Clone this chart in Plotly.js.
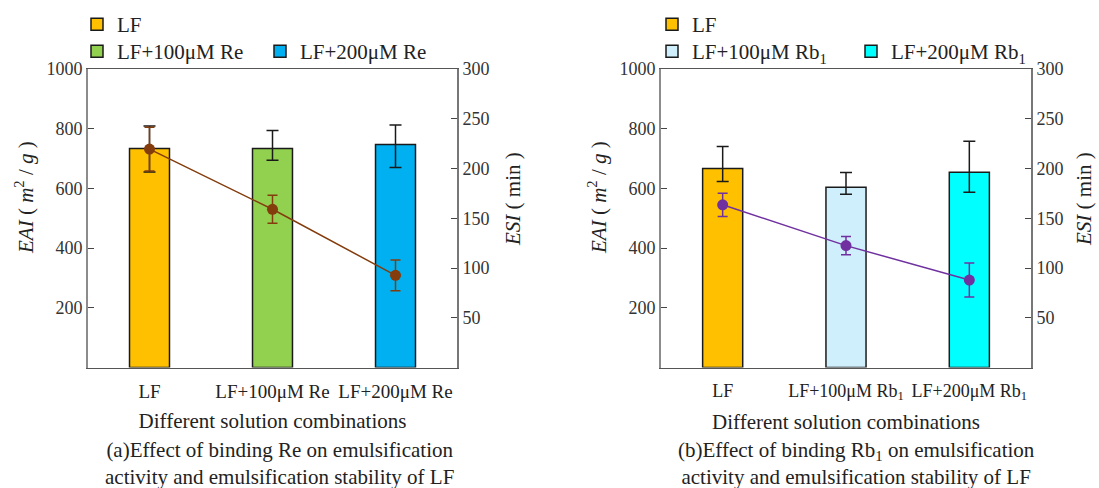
<!DOCTYPE html>
<html>
<head>
<meta charset="utf-8">
<script src="https://cdn.plot.ly/plotly-3.0.1.min.js"></script>
<style>html,body{margin:0;padding:0;background:#fff;}#chart{width:1099px;height:488px;}</style>
</head>
<body>
<div id="chart"></div>
<script>
// ---- data (panel a: Re) ----
const catsA = ['LF', 'LF+100μM Re', 'LF+200μM Re'];
const eaiA = [734, 734, 747];
const eaiAErrPlus = [75, 60, 65];
const eaiAErrMinus = [79, 40, 77];
const esiA = [219.5, 159, 92.6];
const esiAErr = [22, 14, 15.5];
// ---- data (panel b: Rb1) ----
const catsB = ['LF', 'LF+100μM Rb<sub>1</sub>', 'LF+200μM Rb<sub>1</sub>'];
const eaiB = [667, 604, 654];
const eaiBErrPlus = [73, 49, 104];
const eaiBErrMinus = [44, 24, 67];
const esiB = [163.5, 122.5, 87.9];
const esiBErr = [11.7, 9.2, 17];
// ---- ticks ----
const eaiTicks = [200, 400, 600, 800, 1000];
const esiTicks = [50, 100, 150, 200, 250, 300];

const barColorsA = ['#FFC000', '#92D050', '#00B0F0'];
const barColorsB = ['#FFC000', '#CFEFFC', '#00FFFF'];
const FONT = '"Liberation Serif", "Times New Roman", serif';

function barTraces(cats, vals, ep, em, colors, xa, ya, legends) {
  return cats.map((c, i) => ({
    type: 'bar', x: [c], y: [vals[i]], name: c, xaxis: xa, yaxis: ya,
    width: 0.325, legend: legends[i],
    marker: {color: colors[i], line: {color: '#1a1a1a', width: 1.5}},
    error_y: {type: 'data', symmetric: false, array: [ep[i]], arrayminus: [em[i]],
              color: '#1a1a1a', thickness: 1.5, width: 6}
  }));
}
function esiTrace(cats, vals, err, color, xa, ya) {
  return {
    type: 'scatter', mode: 'lines+markers', x: cats, y: vals, xaxis: xa, yaxis: ya,
    showlegend: false, name: 'ESI',
    line: {color: color, width: 1.5},
    marker: {color: color, size: 11},
    error_y: {type: 'data', array: err, color: color, thickness: 1.5, width: 5}
  };
}

const data = [
  ...barTraces(catsA, eaiA, eaiAErrPlus, eaiAErrMinus, barColorsA, 'x', 'y', ['legend', 'legend2', 'legend2']),
  esiTrace(catsA, esiA, esiAErr, '#843C0C', 'x', 'y2'),
  ...barTraces(catsB, eaiB, eaiBErrPlus, eaiBErrMinus, barColorsB, 'x2', 'y3', ['legend3', 'legend4', 'legend4']),
  esiTrace(catsB, esiB, esiBErr, '#7030A0', 'x2', 'y4')
];

const W = 1099, H = 488;
const yDom = [1 - 367.5 / H, 1 - 69 / H];
const tickFont = {family: FONT, size: 18, color: '#333'};
const titleFont = {family: FONT, size: 21, color: '#222'};
const eaiTitle = '<i>EAI</i> ( <i>m</i><sup>2</sup> / <i>g</i> )';
const esiTitle = '<i>ESI</i> ( min )';

function xAxis(cats, dom, fs) {
  return {
    domain: dom, type: 'category', categoryorder: 'array', categoryarray: cats,
    range: [-0.5, 2.5], showline: true, linecolor: '#555', linewidth: 1.5, mirror: true,
    ticks: '', tickangle: 0, ticklabelstandoff: 6,
    tickfont: {family: FONT, size: fs, color: '#222'}, showgrid: false, zeroline: false,
    title: {text: 'Different solution combinations', font: titleFont, standoff: 12}
  };
}
function leftY(anchor) {
  return {
    domain: yDom, anchor: anchor, range: [0, 1000], tickvals: eaiTicks,
    showline: true, linecolor: '#8c8c8c', linewidth: 2, ticks: 'inside', ticklen: 6,
    tickcolor: '#444', tickfont: tickFont, showgrid: false, zeroline: false
  };
}
function rightY(over, anchor) {
  return {
    overlaying: over, anchor: anchor, side: 'right', range: [0, 300], tickvals: esiTicks,
    showline: true, linecolor: '#777', linewidth: 2, ticks: 'inside', ticklen: 6,
    tickcolor: '#444', tickfont: tickFont, showgrid: false, zeroline: false
  };
}
function yTitle(text, px, py) {
  return {xref: 'paper', yref: 'paper', x: px / W, y: 1 - py / H, xanchor: 'center', yanchor: 'middle',
          showarrow: false, textangle: -90, text: text, font: titleFont};
}
const legBase = {font: {family: FONT, size: 21, color: '#222'}, bgcolor: 'rgba(0,0,0,0)',
  xanchor: 'left', yanchor: 'top', itemwidth: 30, itemclick: false, itemdoubleclick: false};

const layout = {
  width: W, height: H, margin: {l: 0, r: 0, t: 0, b: 0},
  paper_bgcolor: '#fff', plot_bgcolor: '#fff', barmode: 'overlay',
  font: {family: FONT, color: '#222'},
  xaxis: xAxis(catsA, [88 / W, 457 / W], 19),
  yaxis: leftY('x'),
  yaxis2: rightY('y', 'x'),
  xaxis2: xAxis(catsB, [661 / W, 1031 / W], 18),
  yaxis3: leftY('x2'),
  yaxis4: rightY('y3', 'x2'),
  legend: Object.assign({}, legBase, {x: 77 / W, y: 1 - 4 / H, orientation: 'v'}),
  legend2: Object.assign({}, legBase, {x: 77 / W, y: 1 - 31 / H, orientation: 'h', entrywidth: 138}),
  legend3: Object.assign({}, legBase, {x: 652 / W, y: 1 - 4 / H, orientation: 'v'}),
  legend4: Object.assign({}, legBase, {x: 652 / W, y: 1 - 31 / H, orientation: 'h', entrywidth: 154}),
  annotations: [
    yTitle(eaiTitle, 24, 198),
    yTitle(esiTitle, 513, 199),
    yTitle(eaiTitle, 597, 198),
    yTitle(esiTitle, 1084, 199),
    {xref: 'paper', yref: 'paper', x: 279 / W, y: 1 - 463 / H, xanchor: 'center', yanchor: 'middle',
     showarrow: false, align: 'center', font: {family: FONT, size: 21, color: '#222'},
     text: '(a)Effect of binding Re on emulsification<br>activity and emulsification stability of LF'},
    {xref: 'paper', yref: 'paper', x: 856 / W, y: 1 - 463 / H, xanchor: 'center', yanchor: 'middle',
     showarrow: false, align: 'center', font: {family: FONT, size: 21, color: '#222'},
     text: '(b)Effect of binding Rb<sub>1</sub> on emulsification<br>activity and emulsification stability of LF'}
  ],
  showlegend: true
};

Plotly.newPlot('chart', data, layout, {displayModeBar: false, staticPlot: true});
</script>
</body>
</html>
